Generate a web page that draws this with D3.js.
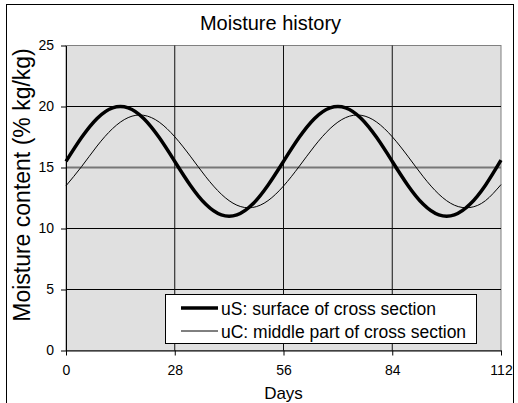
<!DOCTYPE html>
<html>
<head>
<meta charset="utf-8">
<script src="https://cdn.jsdelivr.net/npm/d3@7"></script>
<style>
  body { margin: 0; background: #fff; }
  svg { display: block; font-family: "Liberation Sans", Arial, sans-serif; }
</style>
</head>
<body>
<div id="chart"></div>
<script>
// values, every 4 days
const days = [0, 4, 8, 12, 16, 20, 24, 28, 32, 36, 40, 44, 48, 52, 56,
  60, 64, 68, 72, 76, 80, 84, 88, 92, 96, 100, 104, 108, 112];
const uS = [15.5, 17.45, 19.02, 19.89, 19.89, 19.02, 17.45, 15.5, 13.55, 11.98, 11.11, 11.11, 11.98, 13.55, 15.5,
  17.45, 19.02, 19.89, 19.89, 19.02, 17.45, 15.5, 13.55, 11.98, 11.11, 11.11, 11.98, 13.55, 15.6];
const uC = [13.5, 15.07, 16.76, 18.19, 19.09, 19.28, 18.72, 17.52, 15.93, 14.24, 12.81, 11.91, 11.72, 12.28, 13.48,
  15.07, 16.76, 18.19, 19.09, 19.28, 18.72, 17.52, 15.93, 14.24, 12.81, 11.91, 11.72, 12.28, 13.6];
const xTicks = [0, 28, 56, 84, 112];
const yTicks = [0, 5, 10, 15, 20, 25];
const seriesNames = ['uS: surface of cross section', 'uC: middle part of cross section'];

const width = 518;
const height = 403;
const plot = {left: 66, right: 501, top: 45.5, bottom: 350.5};

const svg = d3.select('#chart').append('svg')
  .attr('width', width)
  .attr('height', height);

// chart area border
svg.append('rect')
  .attr('x', 6.5).attr('y', 4.5)
  .attr('width', 507).attr('height', 420)
  .attr('fill', '#fff')
  .attr('stroke', '#000');

const x = d3.scaleLinear().domain([0, 112]).range([plot.left, plot.right]);
const y = d3.scaleLinear().domain([0, 25]).range([plot.bottom, plot.top]);

// plot area
svg.append('rect')
  .attr('x', x(0)).attr('y', y(25))
  .attr('width', x(112) - x(0)).attr('height', y(0) - y(25))
  .attr('fill', '#e0e0e0')
  .attr('stroke', '#808080');

// gridlines
svg.append('g').selectAll('line')
  .data(yTicks.filter(d => d > 0 && d < 25))
  .join('line')
  .attr('x1', x(0)).attr('x2', x(112))
  .attr('y1', d => y(d)).attr('y2', d => y(d))
  .attr('stroke', d => d === 15 ? '#777' : '#000')
  .attr('stroke-width', d => d === 15 ? 2 : 1);

svg.append('g').selectAll('line')
  .data(xTicks.filter(d => d > 0 && d < 112))
  .join('line')
  .attr('x1', d => x(d)).attr('x2', d => x(d))
  .attr('y1', y(0)).attr('y2', y(25))
  .attr('stroke', '#111');

// axes
const xAxis = svg.append('g')
  .attr('transform', `translate(0, ${y(0)})`)
  .call(d3.axisBottom(x).tickValues(xTicks).tickSize(5).tickPadding(10).tickSizeOuter(0));
const yAxis = svg.append('g')
  .attr('transform', `translate(${x(0)}, 0)`)
  .call(d3.axisLeft(y).tickValues(yTicks).tickSize(5).tickPadding(7).tickSizeOuter(0));

[xAxis, yAxis].forEach(a => {
  a.select('.domain').attr('stroke', '#000');
  a.selectAll('.tick line').attr('stroke', '#000');
  a.selectAll('.tick text')
    .attr('fill', '#000')
    .style('font-size', '14px')
    .style('font-family', '"Liberation Sans", Arial, sans-serif');
});

// curves
const line = d3.line()
  .x((d, i) => x(days[i]))
  .y(d => y(d))
  .curve(d3.curveNatural);

svg.append('path')
  .datum(uC)
  .attr('fill', 'none')
  .attr('stroke', '#000')
  .attr('stroke-width', 1)
  .attr('d', line);

svg.append('path')
  .datum(uS)
  .attr('fill', 'none')
  .attr('stroke', '#000')
  .attr('stroke-width', 3.5)
  .attr('d', line);

// titles
svg.append('text')
  .attr('x', 270.5).attr('y', 29.5)
  .attr('text-anchor', 'middle')
  .style('font-size', '20px')
  .text('Moisture history');

svg.append('text')
  .attr('x', 283.5).attr('y', 399)
  .attr('text-anchor', 'middle')
  .style('font-size', '17px')
  .text('Days');

svg.append('text')
  .attr('transform', 'translate(30, 185) rotate(-90)')
  .attr('text-anchor', 'middle')
  .style('font-size', '23px')
  .text('Moisture content (% kg/kg)');

// legend
const legend = svg.append('g');
legend.append('rect')
  .attr('x', 165.5).attr('y', 294.5)
  .attr('width', 311).attr('height', 49)
  .attr('fill', '#fff')
  .attr('stroke', '#000');

const legendRows = legend.selectAll('g')
  .data(seriesNames)
  .join('g')
  .attr('transform', (d, i) => `translate(0, ${308 + i * 23})`);

legendRows.append('line')
  .attr('x1', 181).attr('x2', 218)
  .attr('stroke', '#000')
  .attr('stroke-width', (d, i) => i === 0 ? 3.5 : 1);

legendRows.append('text')
  .attr('x', 221).attr('y', 6.5)
  .style('font-size', '17.5px')
  .text(d => d);
</script>
</body>
</html>
